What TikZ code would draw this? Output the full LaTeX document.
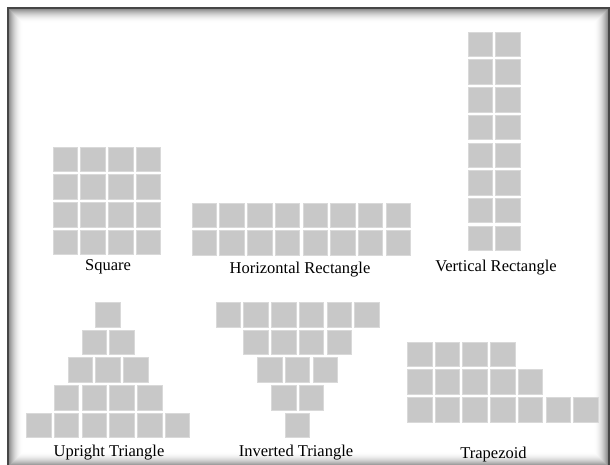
\documentclass[tikz,border=0pt]{standalone}
\usepackage{fontspec}
\setmainfont{Liberation Serif}
\usetikzlibrary{positioning}
\definecolor{tilegray}{RGB}{200,200,200}
\definecolor{frameink}{RGB}{70,70,70}
\tikzset{
  tile/.style={fill=tilegray,draw=tilegray!70!white,line width=0.6pt},
  caption/.style={font=\fontsize{16.5}{19}\selectfont,text=black,inner sep=0pt},
}
% one row of #3 tiles, left edge #1, top edge #2
\newcommand{\tilerow}[3]{%
  \foreach \k in {1,...,#3}
    {\draw[tile] ({#1+(\k-1)*27.7},#2) rectangle ++(24.5,24.5);}}

\begin{document}
\begin{tikzpicture}[x=1pt,y=-1pt]
  \useasboundingbox (0,0) rectangle (610,464);
  \fill[white] (0,0) rectangle (610,464);
  % frame with inner shadow
  \foreach \i in {0,...,14}
    \draw[black,line width=1pt,opacity={0.5*(1-\i/15)^2}]
      ({8.5+\i},{8.5+\i}) rectangle ({608.5-\i},{466-\i});
  \draw[frameink,line width=1.2pt] (8,8) rectangle (609,467);

  % square
  \foreach \y in {147,174.7,202.4,230.1} {\tilerow{53}{\y}{4}}
  \node[caption] (sq) at (108,267) {Square};

  % horizontal rectangle
  \foreach \y in {203,230.7} {\tilerow{192}{\y}{8}}
  \node[caption] (hr) at (300,270) {Horizontal Rectangle};

  % vertical rectangle
  \foreach \r in {0,...,7} {\tilerow{468}{32+\r*27.7}{2}}
  \node[caption] (vr) at (496,268) {Vertical Rectangle};

  % upright triangle
  \foreach \n/\y in {1/302.3,2/330,3/357.7,4/385.4,6/413.1}
    {\tilerow{108-(\n*27.7-3.2)/2}{\y}{\n}}
  \node[caption] (ut) at (109,453) {Upright Triangle};

  % inverted triangle
  \foreach \n/\y in {6/302.3,4/330,3/357.7,2/385.4,1/413.1}
    {\tilerow{297.5-(\n*27.7-3.2)/2}{\y}{\n}}
  \node[caption] (it) at (296,453) {Inverted Triangle};

  % trapezoid
  \foreach \n/\y in {4/342,5/369.7,7/397.4} {\tilerow{407.3}{\y}{\n}}
  \node[caption] (tz) at (493.5,455) {Trapezoid};
\end{tikzpicture}
\end{document}
